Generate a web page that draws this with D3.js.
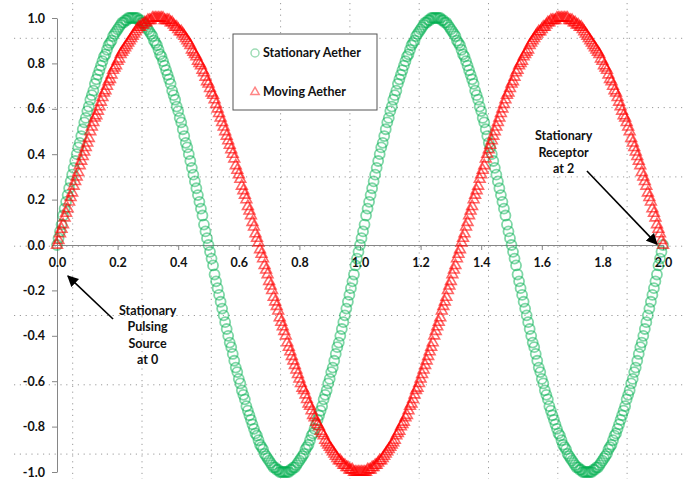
<!DOCTYPE html>
<html>
<head>
<meta charset="utf-8">
<script src="https://cdn.jsdelivr.net/npm/d3@7"></script>
<style>
  body { margin: 0; background: #fff; }
  svg { display: block; }
  .tick text, .label { font-family: Lato, "Liberation Sans", sans-serif; font-weight: bold; font-size: 12.5px; fill: #111; }
  .axis path, .axis line { stroke: #868686; }
  .grid line { stroke: #9a9a9a; stroke-width: 1; stroke-dasharray: 1.2 4.6; }
</style>
</head>
<body>
<svg width="694" height="479"></svg>
<script>
var svg = d3.select('svg');

// sampling step along x (0 .. 2)
var xStep = 0.005;

// Stationary Aether (green circles)
var stationaryValues = [0,
  .03,.06,.09,.13,.16,.19,.22,.25,.28,.31,.34,.37,.40,.43,.45,.48,.51,.54,.56,.59,.61,.64,.66,.68,.71,
  .73,.75,.77,.79,.81,.83,.84,.86,.88,.89,.90,.92,.93,.94,.95,.96,.97,.98,.98,.99,.99,1,1,1,1,
  1,1,1,.99,.99,.98,.98,.97,.96,.95,.94,.93,.92,.90,.89,.88,.86,.84,.83,.81,.79,.77,.75,.73,.71,
  .68,.66,.64,.61,.59,.56,.54,.51,.48,.45,.43,.40,.37,.34,.31,.28,.25,.22,.19,.16,.13,.09,.06,.03,0,
  -.03,-.06,-.09,-.13,-.16,-.19,-.22,-.25,-.28,-.31,-.34,-.37,-.40,-.43,-.45,-.48,-.51,-.54,-.56,-.59,-.61,-.64,-.66,-.68,-.71,
  -.73,-.75,-.77,-.79,-.81,-.83,-.84,-.86,-.88,-.89,-.90,-.92,-.93,-.94,-.95,-.96,-.97,-.98,-.98,-.99,-.99,-1,-1,-1,-1,
  -1,-1,-1,-.99,-.99,-.98,-.98,-.97,-.96,-.95,-.94,-.93,-.92,-.90,-.89,-.88,-.86,-.84,-.83,-.81,-.79,-.77,-.75,-.73,-.71,
  -.68,-.66,-.64,-.61,-.59,-.56,-.54,-.51,-.48,-.45,-.43,-.40,-.37,-.34,-.31,-.28,-.25,-.22,-.19,-.16,-.13,-.09,-.06,-.03,0,
  .03,.06,.09,.13,.16,.19,.22,.25,.28,.31,.34,.37,.40,.43,.45,.48,.51,.54,.56,.59,.61,.64,.66,.68,.71,
  .73,.75,.77,.79,.81,.83,.84,.86,.88,.89,.90,.92,.93,.94,.95,.96,.97,.98,.98,.99,.99,1,1,1,1,
  1,1,1,.99,.99,.98,.98,.97,.96,.95,.94,.93,.92,.90,.89,.88,.86,.84,.83,.81,.79,.77,.75,.73,.71,
  .68,.66,.64,.61,.59,.56,.54,.51,.48,.45,.43,.40,.37,.34,.31,.28,.25,.22,.19,.16,.13,.09,.06,.03,0,
  -.03,-.06,-.09,-.13,-.16,-.19,-.22,-.25,-.28,-.31,-.34,-.37,-.40,-.43,-.45,-.48,-.51,-.54,-.56,-.59,-.61,-.64,-.66,-.68,-.71,
  -.73,-.75,-.77,-.79,-.81,-.83,-.84,-.86,-.88,-.89,-.90,-.92,-.93,-.94,-.95,-.96,-.97,-.98,-.98,-.99,-.99,-1,-1,-1,-1,
  -1,-1,-1,-.99,-.99,-.98,-.98,-.97,-.96,-.95,-.94,-.93,-.92,-.90,-.89,-.88,-.86,-.84,-.83,-.81,-.79,-.77,-.75,-.73,-.71,
  -.68,-.66,-.64,-.61,-.59,-.56,-.54,-.51,-.48,-.45,-.43,-.40,-.37,-.34,-.31,-.28,-.25,-.22,-.19,-.16,-.13,-.09,-.06,-.03,0
];

// Moving Aether (red triangles)
var movingValues = [0,
  .02,.05,.07,.09,.12,.14,.16,.19,.21,.23, .26,.28,.30,.32,.35,.37,.39,.41,.43,.45,
  .47,.50,.52,.54,.56,.57,.59,.61,.63,.65, .67,.68,.70,.72,.73,.75,.77,.78,.79,.81,
  .82,.84,.85,.86,.87,.88,.89,.90,.91,.92, .93,.94,.95,.96,.96,.97,.97,.98,.98,.99,
  .99,.99,1,1,1,1,1,1,1,1, .99,.99,.99,.99,.98,.98,.97,.96,.96,.95,
  .94,.94,.93,.92,.91,.90,.89,.88,.86,.85, .84,.83,.81,.80,.79,.77,.76,.74,.72,.71,
  .69,.67,.66,.64,.62,.60,.58,.56,.54,.52, .50,.48,.46,.44,.42,.40,.38,.35,.33,.31,
  .29,.26,.24,.22,.20,.17,.15,.13,.10,.08, .05,.03,.01,-.02,-.04,-.06,-.09,-.11,-.13,-.16,
  -.18,-.20,-.23,-.25,-.27,-.29,-.32,-.34,-.36,-.38, -.40,-.43,-.45,-.47,-.49,-.51,-.53,-.55,-.57,-.59,
  -.61,-.63,-.64,-.66,-.68,-.70,-.71,-.73,-.75,-.76, -.78,-.79,-.80,-.82,-.83,-.84,-.86,-.87,-.88,-.89,
  -.90,-.91,-.92,-.93,-.94,-.95,-.95,-.96,-.97,-.97, -.98,-.98,-.99,-.99,-.99,-1,-1,-1,-1,-1,
  -1,-1,-1,-1,-.99,-.99,-.99,-.98,-.98,-.97, -.97,-.96,-.95,-.95,-.94,-.93,-.92,-.91,-.90,-.89,
  -.88,-.87,-.86,-.84,-.83,-.82,-.80,-.79,-.78,-.76, -.75,-.73,-.71,-.70,-.68,-.66,-.64,-.63,-.61,-.59,
  -.57,-.55,-.53,-.51,-.49,-.47,-.45,-.43,-.40,-.38, -.36,-.34,-.32,-.29,-.27,-.25,-.23,-.20,-.18,-.16,
  -.13,-.11,-.09,-.06,-.04,-.02,.01,.03,.05,.08, .10,.13,.15,.17,.20,.22,.24,.26,.29,.31,
  .33,.35,.38,.40,.42,.44,.46,.48,.50,.52, .54,.56,.58,.60,.62,.64,.66,.67,.69,.71,
  .72,.74,.76,.77,.79,.80,.81,.83,.84,.85, .86,.88,.89,.90,.91,.92,.93,.94,.94,.95,
  .96,.96,.97,.98,.98,.99,.99,.99,.99,1, 1,1,1,1,1,1,1,.99,.99,.99,
  .98,.98,.97,.97,.96,.96,.95,.94,.93,.92, .91,.90,.89,.88,.87,.86,.85,.84,.82,.81,
  .79,.78,.77,.75,.73,.72,.70,.68,.67,.65, .63,.61,.59,.57,.56,.54,.52,.50,.47,.45,
  .43,.41,.39,.37,.35,.32,.30,.28,.26,.23, .21,.19,.16,.14,.12,.09,.07,.05,.02,0
];

var seriesNames = ['Stationary Aether', 'Moving Aether'];
var xTicks = [0, 0.2, 0.4, 0.6, 0.8, 1.0, 1.2, 1.4, 1.6, 1.8, 2.0];
var yTicks = [-1, -0.8, -0.6, -0.4, -0.2, 0, 0.2, 0.4, 0.6, 0.8, 1.0];

// text notes, anchored in data units
var notes = [
  {lines: ['Stationary', 'Receptor', 'at 2'], x: 1.672, y: 0.48, from: [1.749, 0.326], to: [1.98, 0.004]},
  {lines: ['Stationary', 'Pulsing', 'Source', 'at 0'], x: 0.299, y: -0.29, from: [0.185, -0.326], to: [0.036, -0.137]}
];

var plot = {l: 57, r: 663, t: 18, b: 472};

var xScale = d3.scaleLinear().domain([0, 2]).range([plot.l, plot.r]);
var yScale = d3.scaleLinear().domain([-1, 1]).range([plot.b, plot.t]);

// dotted background grid (Excel draws it on its own square spacing)
var gridStep = 69.3;
var gridG = svg.append('g').attr('class', 'grid');
gridG.selectAll('.vline')
  .data(d3.range(9))
  .enter().append('line')
  .attr('x1', function (d) { return 72.7 + d * gridStep; })
  .attr('x2', function (d) { return 72.7 + d * gridStep; })
  .attr('y1', 3).attr('y2', 479);
gridG.selectAll('.hline')
  .data(d3.range(7))
  .enter().append('line')
  .attr('y1', function (d) { return 38.3 + d * gridStep; })
  .attr('y2', function (d) { return 38.3 + d * gridStep; })
  .attr('x1', 14).attr('x2', 686);

var fmt = function (d) { return d.toFixed(1); };

// axes
svg.append('g')
  .attr('class', 'axis y')
  .attr('transform', 'translate(' + [plot.l, 0] + ')')
  .call(d3.axisLeft(yScale).tickValues(yTicks).tickSize(5).tickPadding(7).tickFormat(fmt).tickSizeOuter(0));

svg.append('g')
  .attr('class', 'axis x')
  .attr('transform', 'translate(' + [0, yScale(0)] + ')')
  .call(d3.axisBottom(xScale).tickValues(xTicks).tickSize(5).tickPadding(8).tickFormat(fmt).tickSizeOuter(0));

svg.selectAll('.axis .domain').attr('stroke', '#868686');

var greenPts = stationaryValues.map(function (v, i) { return {x: i * xStep, y: v}; });
var redPts = movingValues.map(function (v, i) { return {x: i * xStep, y: v}; });

// Stationary Aether markers
svg.append('g')
  .selectAll('circle')
  .data(greenPts)
  .enter().append('circle')
  .attr('cx', function (d) { return xScale(d.x); })
  .attr('cy', function (d) { return yScale(d.y); })
  .attr('r', 5)
  .attr('fill', 'none')
  .attr('stroke', '#00b050')
  .attr('stroke-opacity', 0.5)
  .attr('stroke-width', 1.8);

// Moving Aether markers
var tri = d3.symbol().type(d3.symbolTriangle).size(50);
svg.append('g')
  .selectAll('path')
  .data(redPts)
  .enter().append('path')
  .attr('d', tri)
  .attr('transform', function (d) { return 'translate(' + [xScale(d.x), yScale(d.y)] + ')'; })
  .attr('fill', 'none')
  .attr('stroke', '#ff0000')
  .attr('stroke-opacity', 0.6)
  .attr('stroke-width', 1.6);

// legend
var legend = svg.append('g').attr('transform', 'translate(233,34)');
legend.append('rect')
  .attr('width', 144).attr('height', 76)
  .attr('fill', '#fff').attr('stroke', '#555').attr('stroke-width', 1);
legend.append('circle')
  .attr('cx', 22).attr('cy', 19).attr('r', 4)
  .attr('fill', 'none').attr('stroke', '#9edcb6').attr('stroke-width', 1.5);
legend.append('path')
  .attr('d', d3.symbol().type(d3.symbolTriangle).size(30))
  .attr('transform', 'translate(22,58)')
  .attr('fill', 'none').attr('stroke', '#ff8585').attr('stroke-width', 1.5);
legend.selectAll('.label')
  .data(seriesNames)
  .enter().append('text')
  .attr('class', 'label')
  .attr('x', 30)
  .attr('y', function (d, i) { return 23 + i * 39; })
  .text(function (d) { return d; });

// arrow head
svg.append('defs').append('marker')
  .attr('id', 'head')
  .attr('viewBox', '0 0 10 10')
  .attr('refX', 9).attr('refY', 5)
  .attr('markerWidth', 7).attr('markerHeight', 7)
  .attr('orient', 'auto')
  .append('path').attr('d', 'M0,0L10,5L0,10z').attr('fill', '#000');

// notes with arrows
notes.forEach(function (n) {
  svg.append('line')
    .attr('x1', xScale(n.from[0])).attr('y1', yScale(n.from[1]))
    .attr('x2', xScale(n.to[0])).attr('y2', yScale(n.to[1]))
    .attr('stroke', '#000').attr('stroke-width', 1.6)
    .attr('marker-end', 'url(#head)');
  svg.append('g').selectAll('text')
    .data(n.lines)
    .enter().append('text')
    .attr('class', 'label')
    .attr('text-anchor', 'middle')
    .attr('x', xScale(n.x))
    .attr('y', function (d, i) { return yScale(n.y) + 4 + i * 16.5; })
    .text(function (d) { return d; });
});
</script>
</body>
</html>
